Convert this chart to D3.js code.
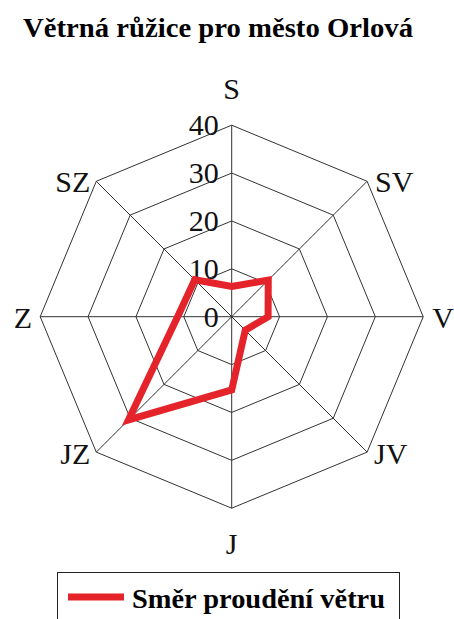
<!DOCTYPE html>
<html>
<head>
<meta charset="utf-8">
<script src="https://cdn.jsdelivr.net/npm/d3@7"></script>
<style>
  body { margin: 0; background: #fff; }
  svg { display: block; font-family: "Liberation Serif", "DejaVu Serif", serif; }
</style>
</head>
<body>
<svg></svg>
<script>
let width = 454, height = 619;

// Data
let directions = ["S", "SV", "V", "JV", "J", "JZ", "Z", "SZ"];
let values = [6.3, 10.8, 7.6, 4, 15.3, 30.5, 11.3, 10.9];
let ticks = [0, 10, 20, 30, 40];
let title = "Větrná růžice pro město Orlová";
let seriesName = "Směr proudění větru";

let svg = d3.select("svg")
    .attr("width", width)
    .attr("height", height);

let cx = 231.7, cy = 316.7;

let r = d3.scaleLinear()
    .domain([0, 40])
    .range([0, 191.5]);

let angle = d3.scalePoint()
    .domain(directions.concat(["_end"]))
    .range([0, 2 * Math.PI]);

function px(dir, v) { return r(v) * Math.sin(angle(dir)); }
function py(dir, v) { return -r(v) * Math.cos(angle(dir)); }

// Title
svg.append("text")
    .attr("x", 218)
    .attr("y", 37)
    .attr("text-anchor", "middle")
    .attr("font-weight", "bold")
    .attr("font-size", 27)
    .attr("textLength", 390)
    .attr("lengthAdjust", "spacingAndGlyphs")
    .text(title);

let g = svg.append("g")
    .attr("transform", "translate(" + cx + "," + cy + ")");

// grid rings
let ring = d3.lineRadial()
    .angle(d => angle(d))
    .curve(d3.curveLinearClosed);

g.append("g")
    .selectAll("path")
    .data(ticks.filter(t => t > 0))
    .enter()
    .append("path")
    .attr("d", t => ring.radius(r(t))(directions))
    .attr("fill", "none")
    .attr("stroke", "#333")
    .attr("stroke-width", 1);

// spokes
g.append("g")
    .selectAll("line")
    .data(directions)
    .enter()
    .append("line")
    .attr("x1", 0).attr("y1", 0)
    .attr("x2", d => px(d, 40))
    .attr("y2", d => py(d, 40))
    .attr("stroke", "#333")
    .attr("stroke-width", 1);

// tick labels
g.append("g")
    .selectAll("text")
    .data(ticks)
    .enter()
    .append("text")
    .attr("x", -13)
    .attr("y", t => -r(t) + 10)
    .attr("text-anchor", "end")
    .attr("font-size", 30)
    .attr("fill", "#111")
    .text(t => t);

// direction labels
let labelPos = {
    "S":  { dx: 0,   dy: -26, anchor: "middle" },
    "SV": { dx: 8,   dy: 11,  anchor: "start" },
    "V":  { dx: 9,   dy: 11,  anchor: "start" },
    "JV": { dx: 7,   dy: 12,  anchor: "start" },
    "J":  { dx: 0,   dy: 46,  anchor: "middle" },
    "JZ": { dx: -6,  dy: 12,  anchor: "end" },
    "Z":  { dx: -8,  dy: 11,  anchor: "end" },
    "SZ": { dx: -6,  dy: 11,  anchor: "end" }
};

g.append("g")
    .selectAll("text")
    .data(directions)
    .enter()
    .append("text")
    .attr("x", d => px(d, 40) + labelPos[d].dx)
    .attr("y", d => py(d, 40) + labelPos[d].dy)
    .attr("text-anchor", d => labelPos[d].anchor)
    .attr("font-size", 30)
    .attr("fill", "#111")
    .text(d => d);

// data line
let line = d3.lineRadial()
    .angle((d, i) => angle(directions[i]))
    .radius(d => r(d))
    .curve(d3.curveLinearClosed);

g.append("path")
    .datum(values)
    .attr("d", line)
    .attr("fill", "none")
    .attr("stroke", "#e5232a")
    .attr("stroke-width", 7)
    .attr("stroke-linejoin", "miter");

// legend
let legend = svg.append("g");
legend.append("rect")
    .attr("x", 57.5)
    .attr("y", 572.5)
    .attr("width", 342)
    .attr("height", 70)
    .attr("fill", "none")
    .attr("stroke", "#222")
    .attr("stroke-width", 1);

legend.append("line")
    .attr("x1", 68).attr("x2", 124)
    .attr("y1", 597).attr("y2", 597)
    .attr("stroke", "#e5232a")
    .attr("stroke-width", 7);

legend.append("text")
    .attr("x", 132)
    .attr("y", 608)
    .attr("font-weight", "bold")
    .attr("font-size", 28)
    .attr("textLength", 253)
    .attr("lengthAdjust", "spacingAndGlyphs")
    .text(seriesName);
</script>
</body>
</html>
